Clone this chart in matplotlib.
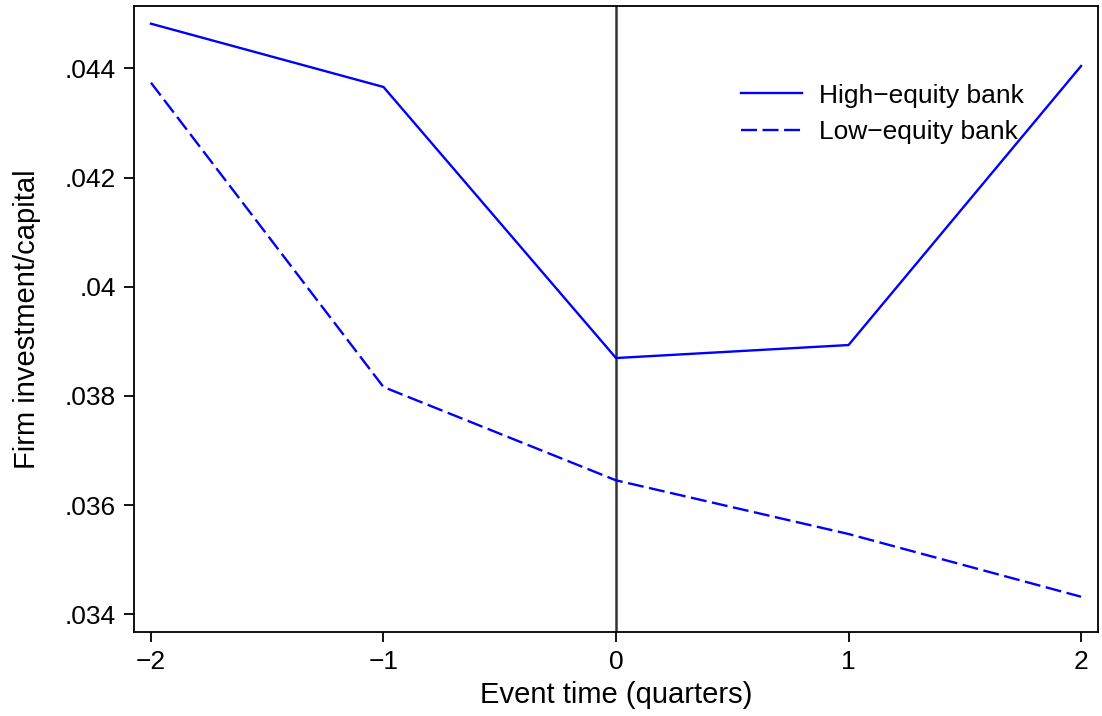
import matplotlib
matplotlib.use("Agg")
import matplotlib.pyplot as plt
from matplotlib.ticker import FuncFormatter

# event-time averages of firm investment / capital
event_time = [-2, -1, 0, 1, 2]
high_equity = [0.044817, 0.043658, 0.038694, 0.038932, 0.044042]
low_equity = [0.043736, 0.038163, 0.036454, 0.035471, 0.034322]
y_ticks = [0.034, 0.036, 0.038, 0.040, 0.042, 0.044]

plt.rcParams['font.family'] = ['Liberation Sans', 'DejaVu Sans']
plt.rcParams['lines.scale_dashes'] = False

fig = plt.figure(figsize=(11.02, 7.16), dpi=100)
ax = fig.add_axes([0.1216, 0.1173, 0.8748, 0.8743])

ax.axvline(0, color='#333333', lw=1.8, zorder=1)
ax.plot(event_time, high_equity, color='#0000ff', lw=1.7, label='High\u2212equity bank', zorder=2)
ax.plot(event_time, low_equity, color='#0000ff', lw=1.7, linestyle=(0, (11.5, 4.0)),
        label='Low\u2212equity bank', zorder=2)

ax.set_xlim(-2.073, 2.073)
ax.set_ylim(0.033676, 0.045141)
ax.set_xticks(event_time)
ax.set_xticklabels([str(t).replace('-', '\u2212') for t in event_time])
ax.set_yticks(y_ticks)
ax.yaxis.set_major_formatter(FuncFormatter(lambda v, p: ('%.3f' % v).lstrip('0').rstrip('0')))

for s in ax.spines.values():
    s.set_linewidth(1.3)
ax.tick_params(axis='both', direction='out', length=7, width=1.3, labelsize=19, pad=6)

ax.set_xlabel('Event time (quarters)', fontsize=21, labelpad=5)
ax.set_ylabel('Firm investment/capital', fontsize=21, labelpad=17)

ax.legend(loc='upper left', bbox_to_anchor=(0.619, 0.893), frameon=False, fontsize=19,
          handlelength=2.31, handletextpad=0.64, labelspacing=0.48, borderaxespad=0)

fig.savefig('out.png', dpi=100)
